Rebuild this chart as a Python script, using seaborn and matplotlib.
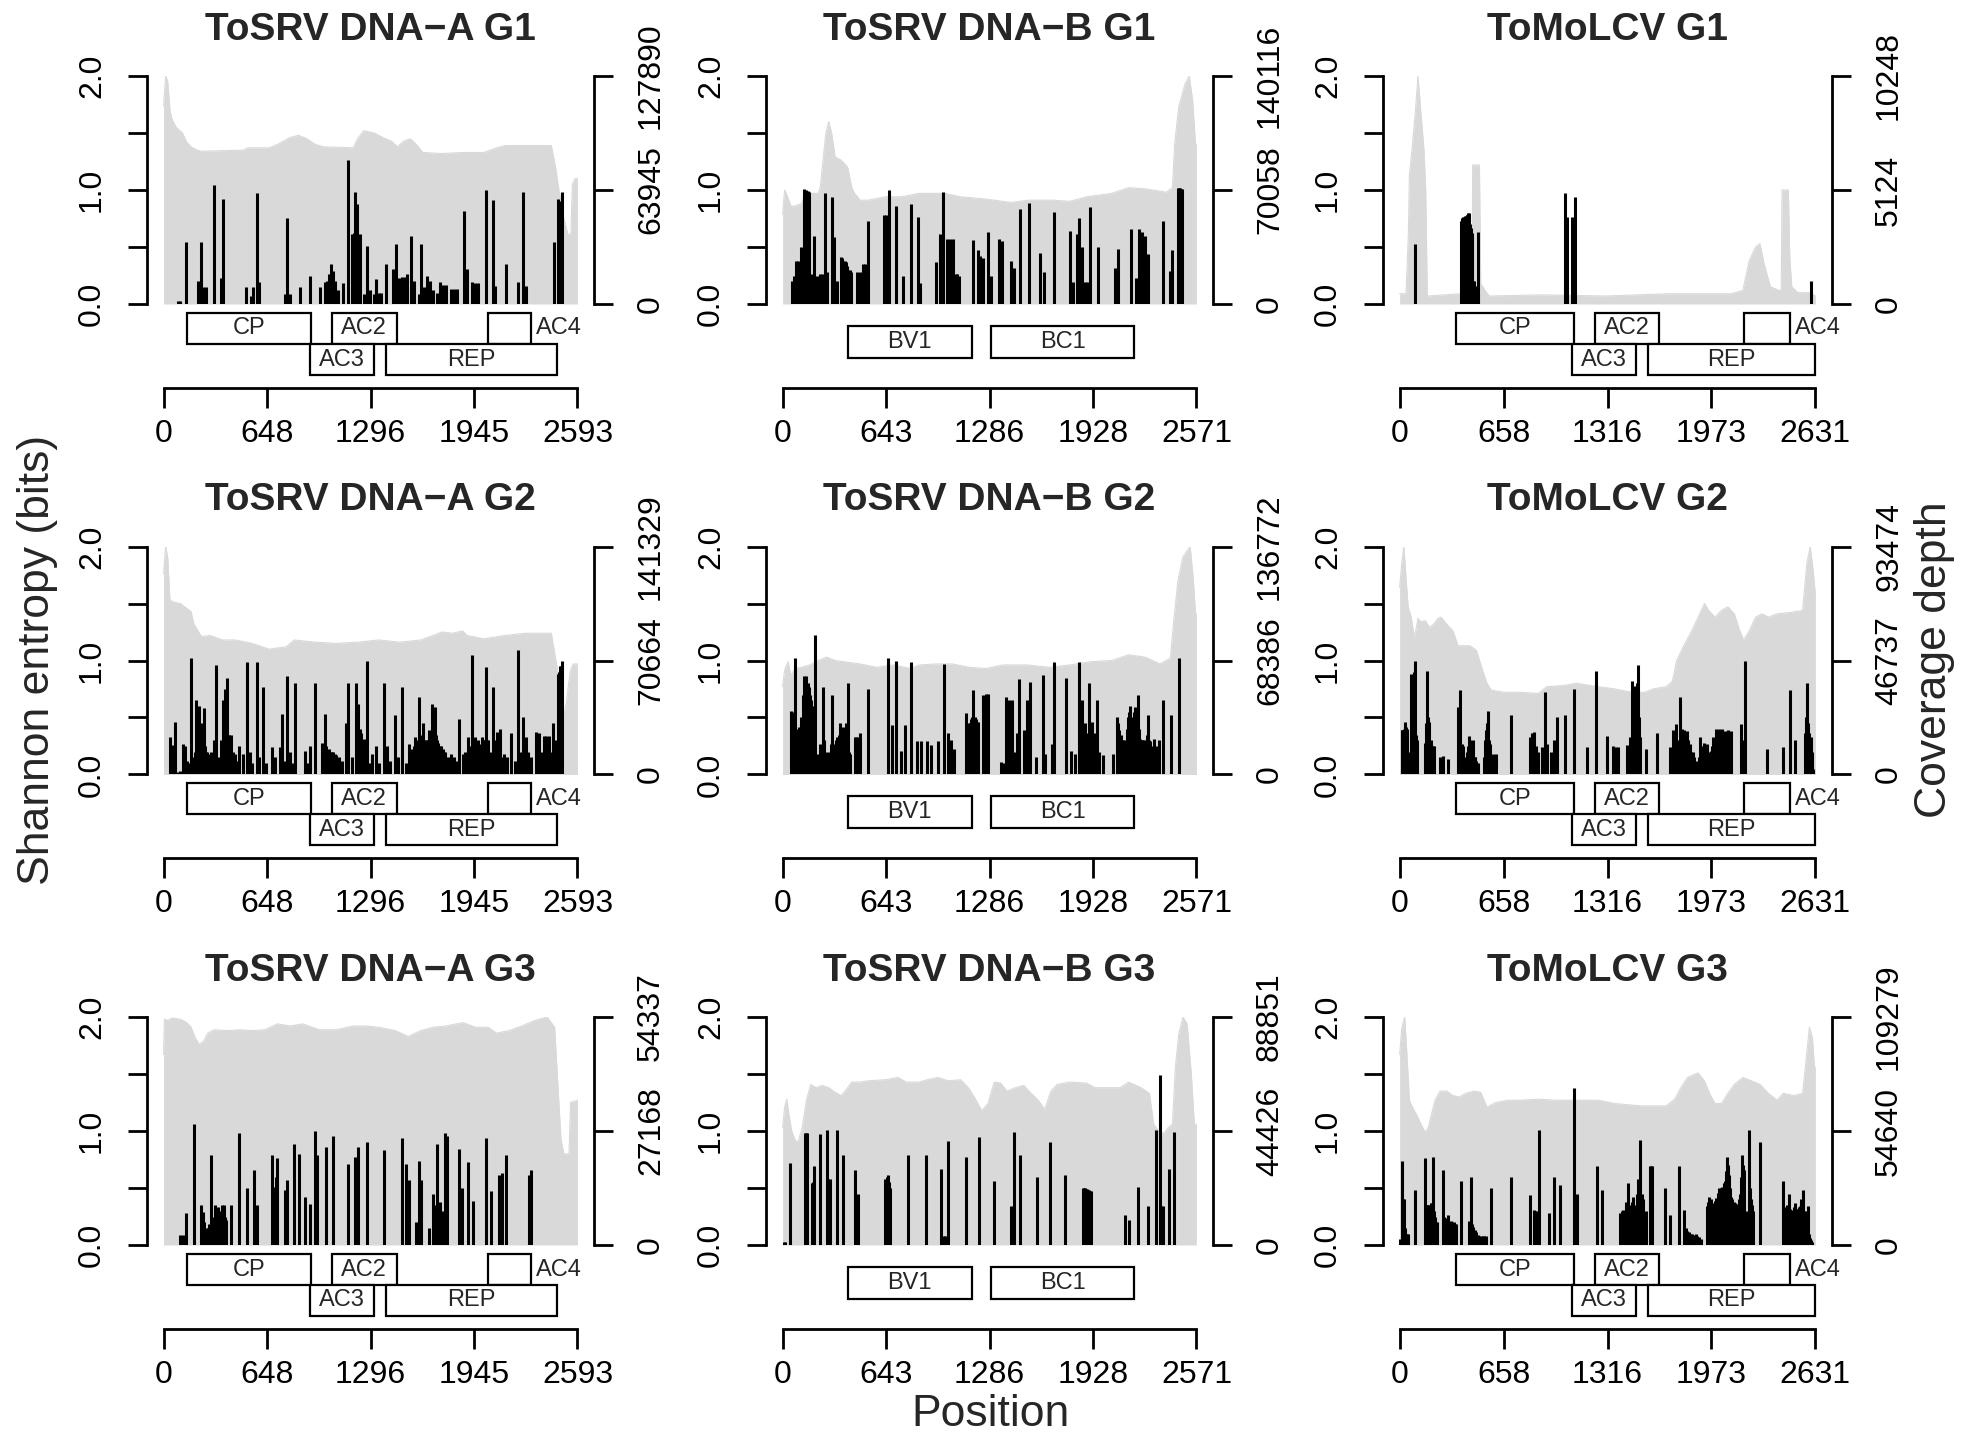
import matplotlib
matplotlib.use("Agg")
import matplotlib.pyplot as plt
from matplotlib.patches import Rectangle
import seaborn as sns

# ---------------------------------------------------------------- data
titles = [["ToSRV DNA\u2212A G1", "ToSRV DNA\u2212B G1", "ToMoLCV G1"],
          ["ToSRV DNA\u2212A G2", "ToSRV DNA\u2212B G2", "ToMoLCV G2"],
          ["ToSRV DNA\u2212A G3", "ToSRV DNA\u2212B G3", "ToMoLCV G3"]]
genome_length = [2593, 2571, 2631]
position_ticklabels = [["0", "648", "1296", "1945", "2593"],
                       ["0", "643", "1286", "1928", "2571"],
                       ["0", "658", "1316", "1973", "2631"]]
coverage_max = [[127890, 140116, 10248],
                [141329, 136772, 93474],
                [54337, 88851, 109279]]
coverage_ticklabels = [[["0", "63945", "127890"], ["0", "70058", "140116"], ["0", "5124", "10248"]],
                       [["0", "70664", "141329"], ["0", "68386", "136772"], ["0", "46737", "93474"]],
                       [["0", "27168", "54337"], ["0", "44426", "88851"], ["0", "54640", "109279"]]]

genes_A_names = ["CP", "AC2", "AC4", "AC3", "REP"]
genes_A_start = [150, 1056, 2033, 916, 1392]
genes_A_end = [924, 1460, 2302, 1320, 2464]
genes_A_row = [0, 0, 0, 1, 1]
genes_B_names = ["BV1", "BC1"]
genes_B_start = [404, 1295]
genes_B_end = [1177, 2183]
genes_B_row = [2, 2]
genes_C_names = ["CP", "AC2", "AC4", "AC3", "REP"]
genes_C_start = [356, 1236, 2180, 1093, 1570]
genes_C_end = [1106, 1641, 2469, 1497, 2630]
genes_C_row = [0, 0, 0, 1, 1]
label_outside = ["AC4"]

# coverage depth: (position, depth)
cov_A1 = [(0, 111300), (13, 127890), (26, 124700), (40, 108700), (53, 103600), (79, 99100), (119, 95900),
          (145, 90800), (172, 88200), (211, 86300), (238, 85700), (502, 86300), (528, 87600), (660, 87600),
          (713, 89500), (792, 93400), (845, 94600), (898, 92700), (950, 89500), (1003, 88200), (1188, 87600),
          (1215, 92700), (1254, 97200), (1320, 95900), (1373, 93400), (1426, 91400), (1466, 88200),
          (1505, 91400), (1545, 92700), (1584, 89500), (1624, 85000), (1743, 84400), (1875, 85000),
          (2007, 85000), (2086, 87600), (2139, 88900), (2271, 88900), (2429, 88900), (2456, 76700),
          (2477, 63900), (2508, 48000), (2535, 38400), (2552, 40000), (2561, 67100), (2577, 70300), (2593, 70300)]
cov_B1 = [(0, 55300), (13, 70100), (31, 65900), (52, 60200), (78, 60200), (117, 61700), (143, 68000),
          (221, 68000), (234, 71500), (247, 84100), (268, 104400), (287, 112100), (305, 105100), (326, 90400),
          (365, 88300), (404, 84100), (430, 71500), (448, 68000), (482, 63800), (534, 63800), (638, 65900),
          (742, 65900), (847, 68000), (1003, 68000), (1107, 65900), (1263, 64500), (1420, 62400),
          (1524, 63800), (1680, 63800), (1784, 63100), (1889, 65900), (2045, 68000), (2149, 71500),
          (2253, 70800), (2383, 68700), (2422, 71500), (2435, 98100), (2461, 121200), (2500, 135200),
          (2526, 140116), (2547, 125400), (2565, 98100), (2571, 98100)]
cov_C1 = [(0, 461), (40, 461), (55, 3074), (62, 5841), (81, 7122), (100, 8711), (116, 10248), (135, 8557),
          (154, 6917), (165, 5124), (175, 359), (391, 461), (459, 461), (462, 6251), (505, 6251), (513, 922),
          (540, 615), (567, 359), (900, 410), (1300, 359), (1700, 461), (2100, 461), (2172, 615),
          (2212, 1947), (2253, 2562), (2280, 2716), (2307, 1793), (2347, 769), (2401, 615), (2415, 615),
          (2420, 5124), (2460, 5124), (2469, 2050), (2482, 769), (2520, 512), (2600, 512), (2631, 359)]
cov_A2 = [(0, 124400), (13, 141329), (26, 134300), (40, 108100), (66, 106700), (106, 106000), (132, 103900),
          (172, 101000), (190, 93300), (224, 87600), (238, 85500), (290, 86200), (370, 83400), (449, 83400),
          (555, 81300), (660, 77700), (766, 79100), (819, 83400), (950, 82000), (1083, 81300), (1215, 82000),
          (1347, 83400), (1479, 82000), (1611, 83400), (1690, 86200), (1743, 88300), (1809, 87600),
          (1875, 89000), (1901, 86200), (2007, 84100), (2139, 86200), (2271, 87600), (2429, 87600),
          (2469, 64300), (2495, 31100), (2522, 43800), (2548, 64300), (2566, 68500), (2593, 68500)]
cov_B2 = [(0, 52700), (13, 62900), (34, 67700), (52, 59500), (78, 63600), (117, 64300), (169, 65700),
          (221, 68400), (274, 70400), (326, 68400), (378, 67700), (482, 66300), (586, 64300), (690, 65700),
          (795, 63600), (847, 65700), (951, 66300), (1055, 66300), (1159, 64300), (1263, 63600),
          (1368, 65700), (1524, 65700), (1654, 64300), (1784, 65700), (1915, 67700), (2045, 68400),
          (2149, 71800), (2253, 70400), (2344, 66300), (2409, 69800), (2430, 92300), (2456, 116300),
          (2487, 130600), (2532, 136772), (2552, 116300), (2565, 96400), (2571, 96400)]
cov_C2 = [(0, 76600), (13, 86500), (27, 93474), (40, 80900), (54, 68700), (73, 64500), (94, 56100),
          (116, 64000), (135, 62600), (162, 63100), (189, 60300), (216, 61700), (243, 64000), (262, 64500),
          (297, 61700), (337, 58900), (370, 52800), (445, 52800), (486, 50900), (526, 42500), (553, 37400),
          (580, 34600), (661, 33700), (769, 33700), (877, 33200), (931, 36000), (1039, 36500), (1120, 37400),
          (1255, 36000), (1362, 35100), (1470, 33700), (1551, 33700), (1605, 35100), (1686, 36000),
          (1726, 38300), (1753, 46700), (1794, 52300), (1848, 58900), (1889, 64500), (1929, 70100),
          (1956, 67300), (1996, 64500), (2037, 67300), (2077, 68700), (2118, 65900), (2145, 60300),
          (2177, 55100), (2212, 58900), (2253, 64500), (2293, 65900), (2334, 64500), (2388, 65900),
          (2469, 66400), (2550, 67300), (2577, 86500), (2598, 93474), (2617, 83700), (2631, 73800)]
cov_A3 = [(0, 45400), (5, 53800), (26, 53500), (53, 54100), (106, 53800), (145, 53000), (172, 51900),
          (198, 49400), (224, 47800), (251, 48600), (277, 50500), (317, 51300), (396, 51100), (475, 51300),
          (555, 51100), (634, 51300), (713, 52700), (792, 52200), (871, 52700), (977, 51300), (1083, 51300),
          (1188, 52200), (1267, 52200), (1347, 51900), (1452, 51100), (1532, 49700), (1611, 51100),
          (1690, 51900), (1769, 52200), (1875, 53000), (1954, 51900), (2033, 51900), (2086, 50500),
          (2165, 51100), (2244, 52200), (2324, 53500), (2403, 54337), (2450, 51900), (2469, 39100),
          (2490, 25000), (2508, 21700), (2540, 21700), (2550, 34000), (2593, 34500)]
cov_B3 = [(0, 45800), (13, 53800), (26, 56900), (39, 51100), (57, 44400), (78, 40900), (96, 40000),
          (122, 45800), (148, 56400), (175, 62600), (208, 61300), (247, 62200), (287, 61300), (326, 59500),
          (365, 58200), (404, 61300), (430, 63500), (482, 63500), (534, 64000), (638, 64400), (716, 65300),
          (768, 63500), (847, 63500), (899, 64400), (964, 65300), (1029, 64000), (1107, 64400), (1159, 60900),
          (1198, 56900), (1237, 52400), (1276, 55100), (1315, 63500), (1354, 63100), (1393, 60000),
          (1446, 61300), (1498, 62200), (1537, 59500), (1589, 56400), (1628, 52900), (1667, 60000),
          (1706, 62600), (1784, 63500), (1889, 63100), (1941, 61300), (2019, 61300), (2097, 61300),
          (2149, 63500), (2227, 61300), (2279, 59100), (2305, 47100), (2336, 44400), (2370, 43500),
          (2396, 45800), (2422, 47100), (2440, 69300), (2461, 82200), (2487, 88851), (2513, 86200),
          (2539, 66600), (2558, 47100), (2571, 47100)]
cov_C3 = [(0, 91200), (13, 103800), (32, 109279), (46, 91200), (62, 69400), (81, 66100), (108, 62300),
          (135, 57900), (162, 54100), (181, 56300), (202, 62800), (224, 69400), (256, 73800), (297, 73800),
          (337, 71600), (378, 71000), (418, 72700), (472, 73800), (513, 73200), (553, 66100), (607, 68300),
          (688, 69400), (769, 69400), (877, 69900), (985, 69400), (1120, 69400), (1255, 69400), (1362, 67800),
          (1524, 66700), (1686, 66700), (1740, 69900), (1780, 75400), (1821, 80300), (1888, 82500),
          (1929, 78700), (1961, 72700), (1996, 67800), (2037, 67800), (2077, 72700), (2118, 77000),
          (2172, 80300), (2226, 78700), (2280, 77000), (2334, 72700), (2388, 69400), (2428, 72700),
          (2496, 71600), (2550, 72700), (2572, 88500), (2593, 104400), (2612, 99400), (2625, 85200),
          (2631, 85200)]

# Shannon entropy: (position, bits)
ent_A1 = [(92, 0.03), (100, 0.03), (140, 0.54), (217, 0.2), (232, 0.54), (248, 0.15), (264, 0.15), (317, 1.04),
          (362, 0.23), (375, 0.92), (518, 0.15), (547, 0.07), (560, 0.15), (586, 0.97), (597, 0.19), (760, 0.09),
          (776, 0.75), (792, 0.09), (853, 0.15), (919, 0.25), (982, 0.15), (1009, 0.19), (1025, 0.2),
          (1038, 0.26), (1048, 0.35), (1061, 0.29), (1075, 0.2), (1096, 0.12), (1122, 0.18), (1154, 1.26),
          (1183, 0.61), (1192, 0.62), (1201, 0.98), (1215, 0.88), (1228, 0.61), (1257, 0.09), (1273, 0.51),
          (1294, 0.12), (1320, 0.09), (1333, 0.22), (1347, 0.1), (1360, 0.1), (1394, 0.35), (1439, 0.31),
          (1458, 0.53), (1473, 0.23), (1482, 0.22), (1492, 0.24), (1500, 0.2), (1510, 0.24), (1526, 0.26),
          (1553, 0.6), (1571, 0.2), (1598, 0.09), (1616, 0.53), (1632, 0.15), (1653, 0.25), (1669, 0.2),
          (1690, 0.12), (1711, 0.1), (1730, 0.19), (1748, 0.17), (1769, 0.17), (1801, 0.13), (1822, 0.13),
          (1840, 0.13), (1885, 0.82), (1901, 0.31), (1933, 0.19), (1954, 0.18), (1972, 0.18), (2017, 1.0),
          (2065, 0.91), (2075, 0.16), (2144, 0.35), (2223, 0.19), (2255, 0.98), (2271, 0.16), (2445, 0.54),
          (2472, 0.92), (2482, 0.9), (2495, 0.98)]
ent_B1 = [(57, 0.2), (70, 0.25), (86, 0.38), (96, 0.38), (117, 0.5), (133, 1.01), (140, 0.99), (148, 1.0),
          (155, 0.99), (162, 0.98), (182, 0.26), (195, 0.6), (211, 0.25), (232, 0.26), (247, 0.26), (263, 0.97),
          (279, 0.28), (307, 0.94), (320, 0.59), (339, 0.2), (365, 0.41), (372, 0.4), (378, 0.38), (386, 0.38),
          (393, 0.37), (401, 0.33), (409, 0.3), (417, 0.3), (425, 0.28), (464, 0.28), (482, 0.28), (500, 0.35),
          (513, 0.35), (529, 0.73), (633, 0.78), (643, 0.78), (659, 1.0), (703, 0.86), (750, 0.25), (795, 0.88),
          (839, 0.76), (854, 0.18), (951, 0.37), (977, 0.61), (995, 0.98), (1024, 0.57), (1042, 0.57),
          (1060, 0.57), (1076, 0.26), (1085, 0.26), (1094, 0.25), (1185, 0.56), (1211, 0.47), (1224, 0.42),
          (1243, 0.4), (1279, 0.63), (1295, 0.25), (1347, 0.57), (1362, 0.55), (1420, 0.38), (1435, 0.32),
          (1472, 0.83), (1532, 0.89), (1597, 0.45), (1623, 0.28), (1688, 0.81), (1784, 0.64), (1805, 0.19),
          (1826, 0.61), (1842, 0.75), (1857, 0.5), (1876, 0.19), (1889, 0.19), (1909, 0.85), (1959, 0.5),
          (2066, 0.32), (2084, 0.48), (2162, 0.66), (2193, 0.23), (2217, 0.66), (2232, 0.63), (2253, 0.6),
          (2269, 0.44), (2363, 0.73), (2404, 0.29), (2417, 0.47), (2456, 1.02), (2462, 1.02), (2467, 1.02),
          (2475, 1.01), (2482, 1.01)]
ent_C1 = [(100, 0.53), (386, 0.73), (392, 0.74), (397, 0.75), (402, 0.76), (407, 0.76), (412, 0.77),
          (418, 0.77), (424, 0.78), (429, 0.78), (435, 0.8), (440, 0.8), (446, 0.7), (451, 0.67), (456, 0.62),
          (461, 0.6), (467, 0.2), (472, 0.2), (478, 0.16), (483, 0.15), (489, 0.12), (494, 0.1), (499, 0.63),
          (1044, 0.97), (1060, 0.76), (1093, 0.76), (1109, 0.94), (2603, 0.2)]
ent_A2 = [(40, 0.33), (53, 0.26), (74, 0.46), (87, 0.02), (106, 0.03), (124, 0.27), (137, 0.25), (150, 0.12),
          (160, 0.1), (172, 1.02), (185, 0.15), (196, 0.2), (206, 0.65), (214, 0.3), (222, 0.6), (230, 0.25),
          (238, 0.45), (245, 0.3), (251, 0.58), (258, 0.25), (264, 0.2), (270, 0.2), (277, 0.18), (290, 0.15),
          (300, 0.2), (317, 0.3), (327, 0.96), (340, 0.12), (350, 0.15), (360, 0.3), (370, 0.65), (377, 0.4),
          (383, 0.75), (390, 0.4), (396, 0.85), (403, 0.35), (409, 0.35), (416, 0.3), (422, 0.35), (435, 0.2),
          (445, 0.18), (460, 0.12), (475, 0.25), (496, 0.18), (520, 0.99), (541, 0.2), (555, 0.1), (586, 0.99),
          (600, 0.15), (621, 0.77), (640, 0.1), (681, 0.24), (700, 0.15), (731, 0.24), (745, 0.53), (760, 0.12),
          (776, 0.86), (792, 0.2), (810, 0.1), (826, 0.8), (885, 0.21), (900, 0.1), (919, 0.25), (950, 0.8),
          (993, 0.28), (1009, 0.53), (1018, 0.25), (1027, 0.2), (1036, 0.22), (1046, 0.2), (1054, 0.2),
          (1061, 0.2), (1072, 0.18), (1083, 0.17), (1098, 0.15), (1120, 0.12), (1141, 0.45), (1157, 0.8),
          (1180, 0.15), (1204, 0.8), (1212, 0.5), (1220, 0.62), (1228, 0.4), (1236, 0.36), (1246, 0.3),
          (1257, 0.31), (1273, 1.0), (1290, 0.1), (1307, 0.18), (1328, 0.25), (1347, 0.1), (1381, 0.8),
          (1397, 0.25), (1420, 0.12), (1452, 0.52), (1470, 0.15), (1492, 0.77), (1518, 0.1), (1537, 0.27),
          (1548, 0.22), (1558, 0.2), (1567, 0.25), (1576, 0.33), (1587, 0.3), (1598, 0.68), (1611, 0.35),
          (1624, 0.45), (1633, 0.3), (1642, 0.3), (1653, 0.3), (1664, 0.39), (1672, 0.35), (1679, 0.62),
          (1689, 0.4), (1698, 0.59), (1705, 0.35), (1711, 0.3), (1720, 0.28), (1730, 0.25), (1739, 0.25),
          (1748, 0.22), (1756, 0.2), (1764, 0.2), (1780, 0.15), (1801, 0.18), (1817, 0.15), (1830, 0.12),
          (1848, 0.49), (1875, 0.18), (1890, 0.2), (1906, 0.33), (1920, 0.25), (1933, 1.05), (1944, 0.3),
          (1954, 0.33), (1967, 0.3), (1980, 0.27), (1993, 0.33), (2000, 0.3), (2007, 0.3), (2014, 0.3),
          (2020, 0.94), (2027, 0.3), (2033, 0.3), (2050, 0.2), (2065, 0.77), (2078, 0.3), (2091, 0.37),
          (2107, 0.4), (2120, 0.15), (2134, 0.18), (2152, 0.15), (2178, 0.36), (2200, 0.12), (2218, 1.09),
          (2235, 0.2), (2250, 0.5), (2262, 0.3), (2271, 0.33), (2284, 0.2), (2300, 0.15), (2332, 0.37),
          (2350, 0.36), (2365, 0.2), (2382, 0.34), (2398, 0.34), (2413, 0.34), (2430, 0.2), (2442, 0.45),
          (2456, 0.3), (2469, 0.88), (2475, 0.9), (2482, 0.95), (2488, 0.95), (2495, 1.0)]
ent_B2 = [(52, 0.56), (58, 0.5), (65, 0.55), (72, 0.42), (78, 1.02), (86, 0.37), (91, 0.38), (96, 0.4),
          (104, 0.42), (112, 0.45), (117, 0.5), (122, 0.47), (128, 0.7), (133, 0.86), (140, 0.8), (148, 0.86),
          (156, 0.8), (164, 0.77), (170, 0.7), (177, 0.65), (184, 0.6), (190, 0.52), (195, 0.5), (201, 1.22),
          (221, 0.18), (234, 0.27), (240, 0.2), (246, 0.2), (253, 0.77), (260, 0.3), (268, 0.15), (276, 0.2),
          (284, 0.15), (292, 0.2), (300, 0.27), (310, 0.7), (318, 0.25), (326, 0.27), (334, 0.3), (341, 0.33),
          (349, 0.35), (357, 0.45), (365, 0.4), (373, 0.42), (380, 0.38), (386, 0.39), (394, 0.45), (404, 0.8),
          (411, 0.2), (417, 0.18), (451, 0.33), (459, 0.33), (466, 0.33), (482, 0.36), (529, 0.75), (656, 1.02),
          (677, 0.43), (703, 1.0), (737, 0.21), (763, 0.43), (800, 0.99), (836, 0.29), (857, 0.29), (899, 0.29),
          (920, 0.26), (964, 0.29), (1003, 0.97), (1029, 0.36), (1045, 0.3), (1066, 0.22), (1138, 0.54),
          (1150, 0.45), (1159, 0.39), (1165, 0.45), (1172, 0.49), (1178, 0.5), (1185, 0.74), (1193, 0.5),
          (1201, 0.49), (1208, 0.46), (1216, 0.46), (1245, 0.7), (1263, 0.71), (1276, 0.71), (1357, 0.11),
          (1373, 0.1), (1388, 0.68), (1407, 0.65), (1425, 0.65), (1440, 0.2), (1456, 0.36), (1469, 0.84),
          (1498, 0.39), (1519, 0.65), (1537, 0.81), (1576, 0.15), (1615, 0.87), (1633, 0.18), (1675, 0.27),
          (1688, 0.99), (1758, 0.85), (1792, 0.21), (1816, 0.18), (1844, 0.99), (1863, 0.65), (1878, 0.45),
          (1889, 0.36), (1904, 0.8), (1920, 0.46), (1936, 0.36), (1956, 0.65), (1967, 0.2), (1988, 0.17),
          (2053, 0.18), (2076, 0.5), (2084, 0.45), (2092, 0.39), (2100, 0.35), (2110, 0.3), (2117, 0.3),
          (2123, 0.27), (2130, 0.3), (2137, 0.4), (2144, 0.5), (2152, 0.55), (2160, 0.6), (2168, 0.45),
          (2175, 0.5), (2182, 0.55), (2191, 0.59), (2198, 0.45), (2206, 0.7), (2214, 0.4), (2222, 0.31),
          (2230, 0.3), (2238, 0.3), (2246, 0.3), (2253, 0.29), (2261, 0.35), (2269, 0.52), (2277, 0.3),
          (2285, 0.29), (2295, 0.25), (2305, 0.31), (2321, 0.25), (2337, 0.3), (2363, 0.65), (2410, 0.52),
          (2462, 1.02)]
ent_C2 = [(13, 0.39), (18, 0.39), (24, 0.39), (29, 0.4), (35, 0.46), (40, 0.42), (44, 0.38), (49, 0.4),
          (55, 0.2), (60, 0.15), (73, 0.88), (79, 0.85), (86, 0.86), (92, 0.9), (100, 1.0), (105, 0.35),
          (111, 0.3), (162, 0.28), (167, 0.45), (175, 0.91), (182, 0.5), (189, 0.46), (196, 0.3), (202, 0.25),
          (209, 0.25), (216, 0.25), (256, 0.15), (275, 0.16), (305, 0.14), (370, 0.59), (378, 0.55), (383, 0.74),
          (390, 0.2), (397, 0.27), (404, 0.25), (418, 0.15), (425, 0.2), (430, 0.25), (437, 0.34), (443, 0.3),
          (453, 0.27), (460, 0.2), (467, 0.3), (474, 0.15), (480, 0.15), (486, 0.12), (499, 0.1), (531, 0.15),
          (538, 0.3), (545, 0.39), (552, 0.45), (561, 0.56), (568, 0.3), (575, 0.27), (594, 0.18), (612, 0.18),
          (707, 0.52), (823, 0.33), (836, 0.36), (850, 0.37), (863, 0.25), (877, 0.2), (898, 0.24), (917, 0.72),
          (931, 0.27), (958, 0.2), (979, 0.3), (998, 0.5), (1047, 0.52), (1106, 0.75), (1187, 0.24),
          (1241, 0.91), (1314, 0.34), (1349, 0.25), (1368, 0.24), (1384, 0.24), (1438, 0.26), (1457, 0.33),
          (1470, 0.82), (1477, 0.75), (1484, 0.78), (1490, 0.7), (1497, 0.65), (1504, 0.8), (1511, 0.96),
          (1517, 0.5), (1524, 0.33), (1557, 0.22), (1627, 0.36), (1713, 0.24), (1720, 0.2), (1732, 0.39),
          (1740, 0.3), (1746, 0.44), (1755, 0.25), (1762, 0.21), (1769, 0.3), (1775, 0.68), (1789, 0.4),
          (1795, 0.3), (1802, 0.39), (1809, 0.3), (1816, 0.38), (1823, 0.3), (1835, 0.27), (1842, 0.2),
          (1854, 0.2), (1862, 0.15), (1870, 0.12), (1880, 0.1), (1889, 0.12), (1895, 0.15), (1902, 0.33),
          (1912, 0.2), (1918, 0.25), (1929, 0.28), (1936, 0.2), (1943, 0.27), (1950, 0.2), (1970, 0.21),
          (1976, 0.25), (1983, 0.33), (1995, 0.3), (2005, 0.4), (2013, 0.35), (2021, 0.4), (2029, 0.35),
          (2037, 0.4), (2045, 0.3), (2056, 0.38), (2064, 0.3), (2077, 0.39), (2086, 0.3), (2096, 0.38),
          (2158, 0.44), (2170, 0.3), (2185, 1.0), (2328, 0.22), (2423, 0.24), (2469, 0.74), (2504, 0.3),
          (2563, 0.36), (2570, 0.5), (2577, 0.8), (2585, 0.45), (2593, 0.36), (2598, 0.3), (2604, 0.33),
          (2610, 0.2), (2617, 0.05)]
ent_A3 = [(106, 0.09), (119, 0.09), (140, 0.28), (190, 1.06), (232, 0.35), (248, 0.29), (256, 0.2), (264, 0.14),
          (270, 0.15), (277, 0.15), (285, 0.18), (298, 0.79), (305, 0.2), (312, 0.2), (318, 0.25), (325, 0.35),
          (332, 0.3), (338, 0.33), (345, 0.28), (351, 0.25), (358, 0.3), (364, 0.35), (371, 0.3), (378, 0.35),
          (385, 0.25), (391, 0.22), (422, 0.35), (475, 0.98), (523, 0.5), (568, 0.66), (586, 0.35), (681, 0.79),
          (690, 0.5), (697, 0.51), (705, 0.6), (713, 0.76), (758, 0.48), (767, 0.45), (776, 0.57), (819, 0.89),
          (850, 0.8), (885, 0.42), (919, 0.36), (951, 1.0), (964, 0.79), (1017, 0.86), (1064, 0.96),
          (1154, 0.71), (1201, 0.77), (1220, 0.86), (1273, 0.9), (1381, 0.83), (1492, 0.94), (1518, 0.71),
          (1537, 0.57), (1584, 0.2), (1603, 0.74), (1616, 0.57), (1663, 0.15), (1685, 0.45), (1698, 0.35),
          (1711, 0.89), (1722, 0.3), (1730, 0.38), (1740, 0.3), (1748, 0.28), (1756, 0.3), (1764, 0.98),
          (1777, 0.96), (1848, 0.84), (1867, 0.5), (1906, 0.73), (1941, 0.39), (2020, 0.94), (2052, 0.47),
          (2099, 0.61), (2118, 0.63), (2144, 0.79), (2287, 0.61), (2303, 0.66)]
ent_B3 = [(8, 0.03), (18, 0.03), (44, 0.72), (138, 0.98), (146, 0.98), (154, 0.98), (182, 0.54), (188, 0.55),
          (195, 0.69), (232, 0.97), (274, 1.01), (283, 0.58), (292, 0.58), (339, 1.01), (373, 0.79), (453, 0.66),
          (469, 0.45), (638, 0.58), (646, 0.6), (654, 0.61), (662, 0.55), (669, 0.5), (779, 0.79), (891, 0.79),
          (985, 0.67), (1000, 0.08), (1008, 0.08), (1029, 0.91), (1138, 0.77), (1219, 0.95), (1316, 0.56),
          (1420, 0.34), (1435, 0.99), (1472, 0.79), (1581, 0.6), (1659, 0.9), (1753, 0.61), (1868, 0.5),
          (1873, 0.5), (1878, 0.5), (1884, 0.49), (1889, 0.49), (1895, 0.48), (1902, 0.48), (1908, 0.47),
          (1915, 0.47), (2128, 0.26), (2154, 0.22), (2206, 0.51), (2272, 0.34), (2318, 1.01), (2344, 1.49),
          (2352, 0.34), (2363, 0.34), (2399, 0.67), (2430, 0.99)]
ent_C3 = [(5, 0.05), (13, 0.74), (20, 0.4), (27, 0.4), (34, 0.15), (40, 0.1), (47, 0.1), (54, 0.1), (100, 0.48),
          (162, 0.76), (168, 0.35), (175, 0.35), (182, 0.35), (189, 0.35), (196, 0.37), (202, 0.37), (208, 0.3),
          (213, 0.77), (218, 0.3), (224, 0.25), (230, 0.2), (235, 0.2), (275, 0.66), (282, 0.25), (289, 0.22),
          (297, 0.24), (305, 0.26), (314, 0.2), (324, 0.21), (333, 0.2), (343, 0.2), (351, 0.18), (359, 0.18),
          (386, 0.56), (440, 0.21), (450, 0.6), (458, 0.18), (467, 0.16), (476, 0.13), (486, 0.11), (495, 0.09),
          (505, 0.08), (515, 0.08), (526, 0.08), (535, 0.08), (545, 0.08), (580, 0.5), (707, 0.6), (823, 0.44),
          (850, 0.31), (857, 0.3), (863, 0.3), (882, 1.01), (944, 0.28), (977, 0.6), (1012, 0.53), (1106, 1.38),
          (1125, 0.45), (1249, 0.69), (1282, 0.48), (1395, 0.28), (1406, 0.3), (1416, 0.31), (1430, 0.38),
          (1443, 0.54), (1452, 0.35), (1460, 0.34), (1468, 0.38), (1476, 0.42), (1484, 0.35), (1497, 0.31),
          (1504, 0.45), (1511, 0.58), (1524, 0.92), (1532, 0.45), (1540, 0.4), (1557, 0.3), (1584, 0.69),
          (1592, 0.69), (1600, 0.69), (1678, 0.5), (1713, 0.26), (1767, 0.69), (1800, 0.31), (1810, 0.15),
          (1821, 0.12), (1832, 0.11), (1843, 0.1), (1852, 0.1), (1862, 0.09), (1875, 0.1), (1884, 0.08),
          (1894, 0.07), (1908, 0.05), (1943, 0.34), (1952, 0.38), (1961, 0.42), (1972, 0.4), (1983, 0.37),
          (1994, 0.39), (2005, 0.41), (2014, 0.46), (2023, 0.5), (2032, 0.5), (2042, 0.51), (2050, 0.54),
          (2058, 0.56), (2065, 0.65), (2072, 0.77), (2079, 0.7), (2086, 0.61), (2093, 0.5), (2099, 0.42),
          (2106, 0.4), (2113, 0.38), (2120, 0.37), (2126, 0.36), (2133, 0.35), (2140, 0.35), (2147, 0.4),
          (2153, 0.45), (2160, 0.6), (2166, 0.79), (2173, 0.7), (2180, 0.66), (2190, 0.3), (2199, 0.21),
          (2212, 1.01), (2219, 0.5), (2226, 0.4), (2233, 0.35), (2239, 0.3), (2280, 0.9), (2423, 0.56),
          (2432, 0.33), (2442, 0.32), (2452, 0.35), (2463, 0.45), (2470, 0.32), (2477, 0.31), (2484, 0.3),
          (2491, 0.3), (2497, 0.33), (2504, 0.37), (2513, 0.32), (2523, 0.32), (2530, 0.33), (2536, 0.34),
          (2543, 0.4), (2550, 0.48), (2558, 0.3), (2566, 0.26), (2574, 0.3), (2582, 0.34), (2588, 0.1),
          (2595, 0.06), (2603, 0.04), (2612, 0.03)]

coverage = [[cov_A1, cov_B1, cov_C1], [cov_A2, cov_B2, cov_C2], [cov_A3, cov_B3, cov_C3]]
entropy = [[ent_A1, ent_B1, ent_C1], [ent_A2, ent_B2, ent_C2], [ent_A3, ent_B3, ent_C3]]
genes = [(genes_A_names, genes_A_start, genes_A_end, genes_A_row),
         (genes_B_names, genes_B_start, genes_B_end, genes_B_row),
         (genes_C_names, genes_C_start, genes_C_end, genes_C_row)]

# ---------------------------------------------------------------- style / layout
sns.set_theme(style="ticks")
plt.rcParams["font.family"] = ["Liberation Sans", "DejaVu Sans"]
GREY = "#d9d9d9"
W, H, DPI = 1969, 1437, 100
PT = 72.0 / DPI                       # points per pixel

col_left = [147, 766, 1383]
col_right = [594, 1213, 1832]
row_top = [76, 546.5, 1017]           # pixel y of entropy 2.0
row_zero = [304, 774.5, 1245]         # pixel y of entropy 0.0
gene_rows_px = {0: (9, 40), 1: (40, 71), 2: (22, 54)}
LW = 2.0
TICK_LEN = 19 * PT
TICK_FS = 23

fig = plt.figure(figsize=(W / DPI, H / DPI), dpi=DPI)
fig.patch.set_facecolor("white")

for r in range(3):
    for c in range(3):
        L = genome_length[c]
        cmax = coverage_max[r][c]
        x0, x1 = col_left[c], col_right[c]
        yt, yz = row_top[r], row_zero[r]
        ax = fig.add_axes([x0 / W, 1 - yz / H, (x1 - x0) / W, (yz - yt) / H])
        tw = ax.twinx()
        ax.set_zorder(tw.get_zorder() + 1)
        ax.patch.set_visible(False)
        tw.patch.set_visible(False)

        # coverage (grey, right axis)
        cpos = [p for p, v in coverage[r][c]]
        cval = [v for p, v in coverage[r][c]]
        tw.fill_between(cpos, cval, 0, color=GREY, linewidth=0)
        sns.lineplot(x=cpos, y=cval, ax=tw, color=GREY, linewidth=0.8, errorbar=None)

        # entropy (black bars, left axis)
        epos = [p for p, v in entropy[r][c]]
        evals = [v for p, v in entropy[r][c]]
        ax.vlines(epos, 0, evals, color="black", linewidth=2.2)

        ax.set_xlim(-0.04 * L, 1.04 * L)
        ax.set_ylim(0, 2)
        tw.set_ylim(0, cmax)

        # left axis
        ax.set_yticks([0, 0.5, 1.0, 1.5, 2.0])
        ax.set_yticklabels(["0.0", "", "1.0", "", "2.0"], rotation=90, ha="center", va="center")
        ax.tick_params(axis="y", direction="out", length=TICK_LEN, width=LW, pad=36 * PT,
                       labelsize=TICK_FS, colors="black")
        # bottom position axis
        ax.set_xticks([0, L / 4, L / 2, 3 * L / 4, L])
        ax.set_xticklabels(position_ticklabels[c])
        ax.tick_params(axis="x", direction="out", length=20 * PT, width=LW, pad=11 * PT,
                       labelsize=TICK_FS, colors="black")
        ax.spines["bottom"].set_position(("outward", 84 * PT))
        ax.spines["bottom"].set_bounds(0, L)
        for s in ("top", "right"):
            ax.spines[s].set_visible(False)
        for s in ("left", "bottom"):
            ax.spines[s].set_linewidth(LW)
            ax.spines[s].set_color("black")
        ax.grid(False)

        # right coverage axis
        tw.set_yticks([0, cmax / 2, cmax])
        tw.set_yticklabels(coverage_ticklabels[r][c], rotation=90, ha="center", va="center")
        tw.tick_params(axis="y", direction="out", length=TICK_LEN, width=LW, pad=38 * PT,
                       labelsize=TICK_FS, colors="black", left=False, right=True,
                       labelleft=False, labelright=True)
        for s in ("left", "top", "bottom"):
            tw.spines[s].set_visible(False)
        tw.spines["right"].set_bounds(0, cmax)
        tw.spines["right"].set_linewidth(LW)
        tw.spines["right"].set_color("black")
        tw.set_xlabel("")
        tw.set_ylabel("")
        tw.grid(False)

        # gene boxes
        unit_px = (yz - yt) / 2.0
        data_per_px = 1.08 * L / (x1 - x0)
        names, starts, ends, rows = genes[c]
        for name, s0, e0, gr in zip(names, starts, ends, rows):
            top_px, bot_px = gene_rows_px[gr]
            yb = -bot_px / unit_px
            hgt = (bot_px - top_px) / unit_px
            ax.add_patch(Rectangle((s0, yb), e0 - s0, hgt, facecolor="white", edgecolor="black",
                                   linewidth=1.6, clip_on=False))
            ymid = yb + hgt / 2
            if name in label_outside:
                ax.text(e0 + 5 * data_per_px, ymid, name, ha="left", va="center",
                        fontsize=17, clip_on=False)
            else:
                ax.text((s0 + e0) / 2, ymid, name, ha="center", va="center",
                        fontsize=17, clip_on=False)

        ax.set_xlim(-0.04 * L, 1.04 * L)

        # panel title
        fig.text((x0 + x1) / 2 / W, 1 - (40 + 470.5 * r) / H, titles[r][c], ha="center",
                 va="baseline", fontsize=28, fontweight="bold")

fig.text(38 / W, 1 - 660 / H, "Shannon entropy (bits)", rotation=90, ha="center", va="center",
         fontsize=32)
fig.text(1934 / W, 1 - 660 / H, "Coverage depth", rotation=90, ha="center", va="center", fontsize=32)
fig.text(990 / W, 1 - 1426 / H, "Position", ha="center", va="baseline", fontsize=32)

fig.savefig("out.png", dpi=DPI, facecolor="white")
